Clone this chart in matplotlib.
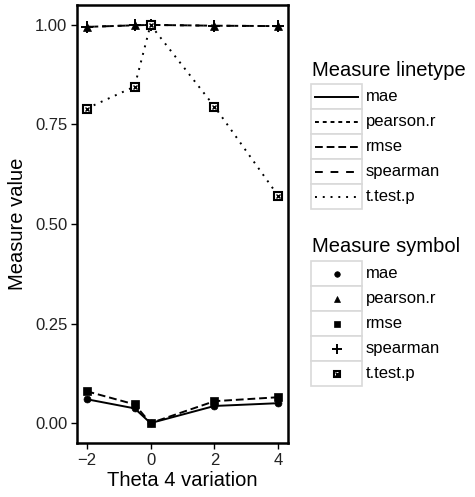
import numpy as np
import matplotlib
matplotlib.use("Agg")
import matplotlib.pyplot as plt
from matplotlib.patches import Rectangle

plt.rcParams['font.family'] = ['Liberation Sans', 'DejaVu Sans']

# data
theta = [-2, -0.5, 0, 2, 4]
measures = ['mae', 'pearson.r', 'rmse', 'spearman', 't.test.p']
mae = [0.060, 0.037, 0.0, 0.043, 0.050]
pearson_r = [0.995, 0.999, 1.0, 0.998, 0.997]
rmse = [0.080, 0.047, 0.0, 0.055, 0.065]
spearman = [0.995, 0.999, 1.0, 0.998, 0.997]
t_test_p = [0.79, 0.845, 1.0, 0.795, 0.57]
values = [mae, pearson_r, rmse, spearman, t_test_p]
yticks = [0.0, 0.25, 0.5, 0.75, 1.0]
xticks = [-2, 0, 2, 4]

# ggplot-ish styles
dashes = {'mae': None, 'pearson.r': (2, 2), 'rmse': (4, 2), 'spearman': (4, 4), 't.test.p': (1, 3)}
shapes = {'mae': 'o', 'pearson.r': '^', 'rmse': 's', 'spearman': '+', 't.test.p': 'sx'}
msize = {'mae': 5, 'pearson.r': 6, 'rmse': 6, 'spearman': 8, 't.test.p': 6}
lw = 1.4

W, H = 475, 497
fig = plt.figure(figsize=(W / 100, H / 100), dpi=100)
ax = fig.add_axes([77 / W, 1 - 443 / H, (288 - 77) / W, (443 - 5) / H])


def draw_marker(a, x, y, m, ms):
    if m == 'sx':
        a.plot(x, y, ls='none', marker='s', ms=ms, mfc='white', mec='black', mew=1.5, zorder=4)
        a.plot(x, y, ls='none', marker='x', ms=ms * 0.55, mec='black', mew=1.0, zorder=5)
    else:
        a.plot(x, y, ls='none', marker=m, ms=ms, mfc='black', mec='black',
               mew=1.4 if m == '+' else 0.5, zorder=4)


for name, vals in zip(measures, values):
    line, = ax.plot(theta, vals, color='black', lw=lw, zorder=3)
    if dashes[name] is not None:
        line.set_dashes(dashes[name])
    draw_marker(ax, theta, vals, shapes[name], msize[name])

ax.set_xlim(-2.3, 4.3)
ax.set_ylim(-0.05, 1.05)
ax.set_xticks(xticks)
ax.set_xticklabels(['\u22122', '0', '2', '4'])
ax.set_yticks(yticks)
ax.set_yticklabels(['0.00', '0.25', '0.50', '0.75', '1.00'])
ax.tick_params(length=4, width=1, color='black', labelsize=12, labelcolor='#222222', pad=3)
for s in ax.spines.values():
    s.set_linewidth(1.8)
    s.set_color('black')
ax.set_xlabel('Theta 4 variation', fontsize=14.5, labelpad=2)
ax.set_ylabel('Measure value', fontsize=14.5, labelpad=6)

# legends drawn in pixel coordinates on an overlay
lg = fig.add_axes([0, 0, 1, 1])
lg.set_xlim(0, W)
lg.set_ylim(H, 0)
lg.axis('off')
lg.patch.set_alpha(0)

kx0, kw, kh = 311, 51, 25


def legend_block(title, ty, top, kind):
    lg.text(kx0 + 1, ty, title, fontsize=14.5, va='center', ha='left')
    for i, name in enumerate(measures):
        y0 = top + i * kh
        lg.add_patch(Rectangle((kx0, y0), kw, kh, facecolor='white',
                               edgecolor='#d9d9d9', lw=1.2))
        yc = y0 + kh / 2
        if kind == 'line':
            ln, = lg.plot([kx0 + 4, kx0 + kw - 4], [yc, yc], color='black', lw=lw)
            if dashes[name] is not None:
                ln.set_dashes(dashes[name])
        else:
            draw_marker(lg, [kx0 + kw / 2], [yc], shapes[name], msize[name] - 1)
        lg.text(kx0 + kw + 4, yc, name, fontsize=12, va='center', ha='left')


legend_block('Measure linetype', 70, 84, 'line')
legend_block('Measure symbol', 246, 261, 'point')

fig.savefig('out.png', dpi=100)
